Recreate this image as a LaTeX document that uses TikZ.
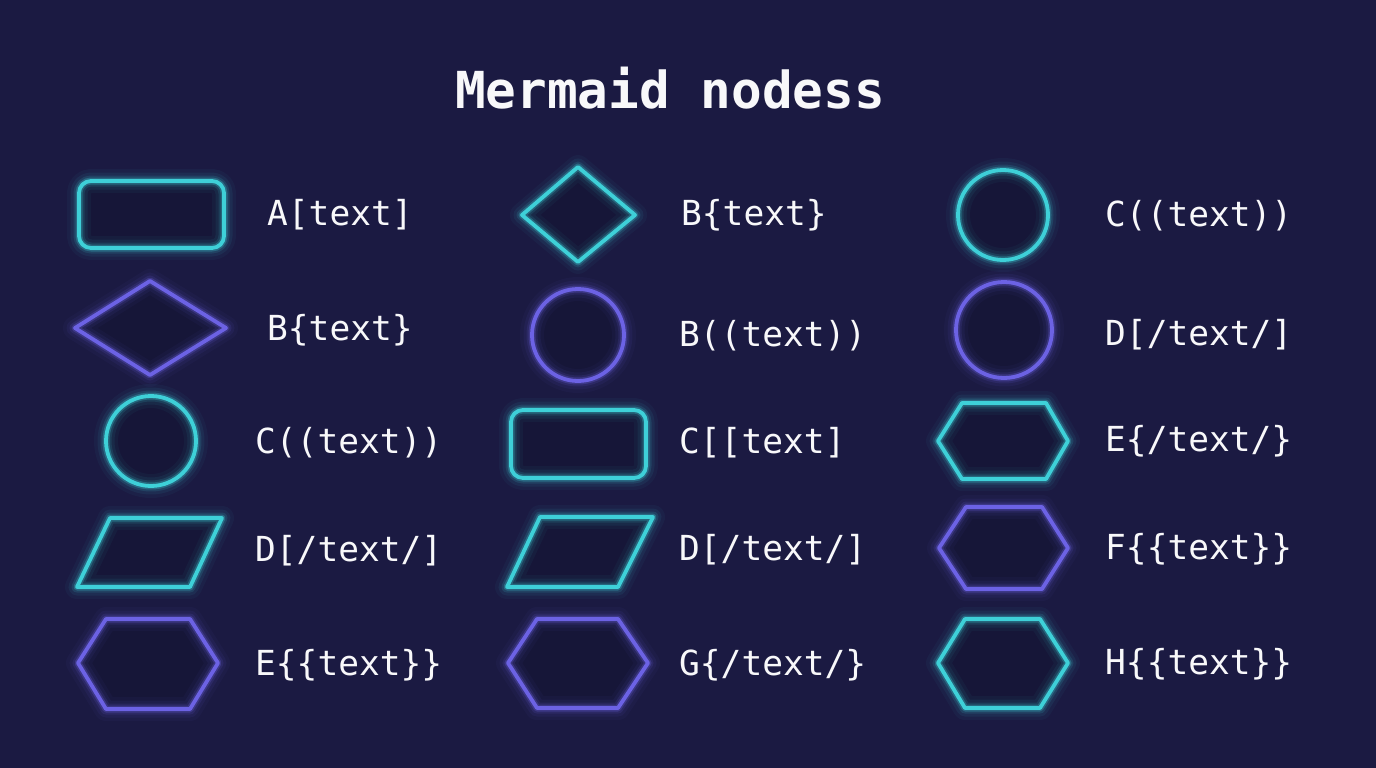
\documentclass[tikz,border=0pt]{standalone}
\usepackage{fontspec}
\setmonofont{DejaVu Sans Mono}
\definecolor{bg}{RGB}{27,26,66}
\definecolor{cy}{RGB}{62,208,216}
\definecolor{pu}{RGB}{108,98,228}
\definecolor{tx}{RGB}{248,248,250}
\newcommand\glowshape[2]{%
  \fill[black,opacity=0.15] #2;
  \foreach \lw/\op in {24/0.045,17/0.07,11/0.13,7/0.28}{\draw[#1,line width=\lw pt,opacity=\op,line join=round] #2;}
  \draw[#1,line width=3.8pt,line join=round] #2;}
\begin{document}
\begin{tikzpicture}[x=1pt,y=-1pt,
  lbl/.style={anchor=west,text=tx,font=\ttfamily\fontsize{34.5}{34.5}\selectfont,inner sep=0pt},
  ttl/.style={anchor=center,text=tx,font=\ttfamily\bfseries\fontsize{51}{51}\selectfont,inner sep=0pt}]
\fill[bg] (0,0) rectangle (1376,768);
\useasboundingbox (0,0) rectangle (1376,768);
\node[ttl] (title) at (670,88) {Mermaid nodess};
% column 1
\glowshape{cy}{[rounded corners=12pt] (79,181) rectangle (224,248)}
\glowshape{pu}{(75,328)--(150,281)--(226,328)--(150,375)--cycle}
\glowshape{cy}{(151,441) circle (45)}
\glowshape{cy}{(110,518)--(222,518)--(190,587)--(77,587)--cycle}
\glowshape{pu}{(78,663)--(106,619)--(190,619)--(218,663)--(190,709)--(106,709)--cycle}
\node[lbl] (l11) at (267,215) {A[text]};
\node[lbl] (l12) at (267,330) {B\{text\}};
\node[lbl] (l13) at (255,443) {C((text))};
\node[lbl] (l14) at (255,551) {D[/text/]};
\node[lbl] (l15) at (255,665) {E\{\{text\}\}};
% column 2
\glowshape{cy}{(522,215)--(578,167)--(635,215)--(578,262)--cycle}
\glowshape{pu}{(578,335) circle (46)}
\glowshape{cy}{[rounded corners=12pt] (511,410) rectangle (646,478)}
\glowshape{cy}{(540,517)--(653,517)--(618,587)--(507,587)--cycle}
\glowshape{pu}{(508,663)--(537,619)--(618,619)--(648,663)--(618,708)--(537,708)--cycle}
\node[lbl] (l21) at (681,215) {B\{text\}};
\node[lbl] (l22) at (679,336) {B((text))};
\node[lbl] (l23) at (679,443) {C[[text]};
\node[lbl] (l24) at (679,550) {D[/text/]};
\node[lbl] (l25) at (679,665) {G\{/text/\}};
% column 3
\glowshape{cy}{(1003,215) circle (45)}
\glowshape{pu}{(1004,330) circle (48)}
\glowshape{cy}{(938,441)--(962,403)--(1046,403)--(1068,441)--(1046,479)--(962,479)--cycle}
\glowshape{pu}{(939,548)--(966,507)--(1042,507)--(1068,548)--(1042,589)--(966,589)--cycle}
\glowshape{cy}{(938,663)--(965,619)--(1040,619)--(1068,663)--(1040,708)--(965,708)--cycle}
\node[lbl] (l31) at (1105,216) {C((text))};
\node[lbl] (l32) at (1105,335) {D[/text/]};
\node[lbl] (l33) at (1105,441) {E\{/text/\}};
\node[lbl] (l34) at (1105,549) {F\{\{text\}\}};
\node[lbl] (l35) at (1105,664) {H\{\{text\}\}};
\end{tikzpicture}
\end{document}
